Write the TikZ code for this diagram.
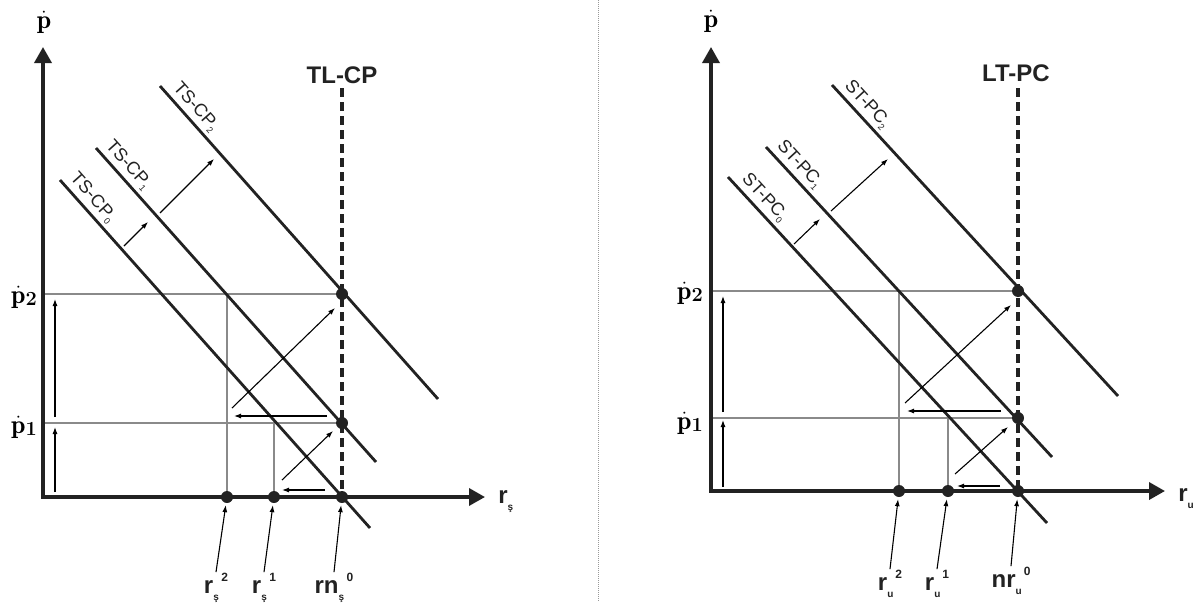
\documentclass[tikz,border=0pt]{standalone}
\usepackage{fontspec}
\usetikzlibrary{arrows.meta}
\newfontfamily\arialf{Liberation Sans}
\definecolor{ink}{HTML}{222222}
\definecolor{guidegray}{HTML}{8A8A8A}
\newcommand{\mylab}[3]{#1\rlap{\raisebox{-0.55ex}{\fontsize{10}{10}\selectfont #2}}\hspace{0.34em}\raisebox{0.95ex}{\fontsize{12}{12}\selectfont #3}}
\newcommand{\cpsub}[1]{\raisebox{-0.35ex}{\fontsize{9}{9}\selectfont #1}}
\newcommand{\pdsub}[1]{$\dot{\mathbf{p}}$\raisebox{-0.25ex}{\fontsize{20}{20}\selectfont\bfseries #1}}
\begin{document}
\begin{tikzpicture}[x=1pt,y=-1pt,
  curve/.style={line width=2.8pt, draw=ink},
  axisln/.style={line width=3.5pt, draw=ink, line join=miter,
     {Triangle[length=16pt,width=17pt]}-{Triangle[length=16pt,width=17pt]}},
  guide/.style={line width=1.2pt, draw=guidegray},
  mv/.style={line width=1.1pt, draw=black, -{Latex[length=7pt,width=5pt]}},
  lrline/.style={line width=4.5pt, draw=ink, dash pattern=on 9pt off 5pt},
  dot/.style={circle, fill=ink, inner sep=0pt, minimum size=12pt},
  plab/.style={font=\fontsize{26}{26}\selectfont, text=black, inner sep=0pt},
  tlab/.style={font=\arialf\bfseries\fontsize{24}{24}\selectfont, text=ink, inner sep=0pt},
  cplab/.style={font=\arialf\fontsize{18}{18}\selectfont, text=ink},
  rlab/.style={font=\arialf\bfseries\fontsize{24}{24}\selectfont, text=ink, inner sep=1pt}]
\useasboundingbox (0,0) rectangle (1198,602);

% divider
\coordinate (divT) at (598,0);
\coordinate (divB) at (598,602);
\draw[line width=1pt, draw=gray!80, dash pattern=on 1pt off 1pt] (divT) -- (divB);

%%%%%%%%%%%%%%%% LEFT PANEL
\coordinate (O1) at (43,497);
\coordinate (Y1) at (43,47);
\coordinate (X1) at (485,497);
% guide lines
\draw[guide] (43,294) -- (342,294);
\draw[guide] (43,423) -- (342,423);
\draw[guide] (227,294) -- (227,497);
\draw[guide] (274,423) -- (274,497);
% long-run line
\coordinate (LR1t) at (342,88);
\coordinate (LR1b) at (342,497);
\draw[lrline] (LR1t) -- (LR1b);
% short-run curves
\coordinate (A0) at (60,180);  \coordinate (B0) at (370,528);
\coordinate (A1) at (96,148);  \coordinate (B1) at (376,462);
\coordinate (A2) at (160,86);  \coordinate (B2) at (438,399);
\draw[curve] (A0) -- (B0) node[pos=0.075, sloped, above, cplab] {TS-CP\cpsub{0}};
\draw[curve] (A1) -- (B1) node[pos=0.081, sloped, above, cplab] {TS-CP\cpsub{1}};
\draw[curve] (A2) -- (B2) node[pos=0.094, sloped, above, cplab] {TS-CP\cpsub{2}};
% axes
\draw[axisln] (Y1) -- (O1) -- (X1);
% dots
\node[dot] (L0) at (342,497) {};
\node[dot] (L1) at (342,423) {};
\node[dot] (L2) at (342,294) {};
\node[dot] (Lr1) at (274,497) {};
\node[dot] (Lr2) at (227,497) {};
% movement arrows
\draw[mv] (124,246) -- (148,222);
\draw[mv] (160,213) -- (214,159);
\draw[mv] (55,492) -- (55,427);
\draw[mv] (55,417) -- (55,299);
\draw[mv] (327,416) -- (234,416);
\draw[mv] (325,490) -- (282,490);
\draw[mv] (232,408) -- (335,308);
\draw[mv] (282,480) -- (333,431);
% labels
\node[plab] (lp) at (44,22) {$\dot{\mathbf{p}}$};
\node[plab] (lp2) at (24,297) {\pdsub{2}};
\node[plab] (lp1) at (24,427) {\pdsub{1}};
\node[tlab] (tlcp) at (342,75) {TL-CP};
\node[rlab] (lrs) at (507,502) {\mylab{r}{ş}{}};
\node[rlab] (lrs2) at (216,588) {\mylab{r}{ş}{2}};
\node[rlab] (lrs1) at (264,588) {\mylab{r}{ş}{1}};
\node[rlab] (lrn0) at (334,588) {\mylab{rn}{ş}{0}};
\draw[mv, shorten >=2pt] (lrs2.north) -- (Lr2);
\draw[mv, shorten >=2pt] (lrs1.north) -- (Lr1);
\draw[mv, shorten >=2pt] (lrn0.north) -- (L0);

%%%%%%%%%%%%%%%% RIGHT PANEL
\coordinate (O2) at (711,491);
\coordinate (Y2) at (711,47);
\coordinate (X2) at (1165,491);
\draw[guide] (711,291) -- (1018,291);
\draw[guide] (711,418) -- (1018,418);
\draw[guide] (899,291) -- (899,491);
\draw[guide] (948,418) -- (948,491);
\coordinate (LR2t) at (1018,88);
\coordinate (LR2b) at (1018,491);
\draw[lrline] (LR2t) -- (LR2b);
\coordinate (C0) at (728,177);  \coordinate (D0) at (1047,523);
\coordinate (C1) at (766,147);  \coordinate (D1) at (1052,457);
\coordinate (C2) at (832,85);   \coordinate (D2) at (1118,396);
\draw[curve] (C0) -- (D0) node[pos=0.085, sloped, above, cplab] {ST-PC\cpsub{0}};
\draw[curve] (C1) -- (D1) node[pos=0.085, sloped, above, cplab] {ST-PC\cpsub{1}};
\draw[curve] (C2) -- (D2) node[pos=0.09, sloped, above, cplab] {ST-PC\cpsub{2}};
\draw[axisln] (Y2) -- (O2) -- (X2);
\node[dot] (R0) at (1018,491) {};
\node[dot] (R1) at (1018,418) {};
\node[dot] (R2) at (1018,291) {};
\node[dot] (Rr1) at (948,491) {};
\node[dot] (Rr2) at (899,491) {};
\draw[mv] (794,244) -- (820,219);
\draw[mv] (831,211) -- (888,159);
\draw[mv] (723,487) -- (723,420);
\draw[mv] (723,412) -- (723,296);
\draw[mv] (1001,411) -- (907,411);
\draw[mv] (1000,486) -- (957,486);
\draw[mv] (905,403) -- (1011,305);
\draw[mv] (955,474) -- (1008,427);
\node[plab] (rp) at (711,21) {$\dot{\mathbf{p}}$};
\node[plab] (rp2) at (690,293) {\pdsub{2}};
\node[plab] (rp1) at (690,423) {\pdsub{1}};
\node[tlab] (ltpc) at (1016,73) {LT-PC};
\node[rlab] (rru) at (1187,499) {\mylab{r}{u}{}};
\node[rlab] (rru2) at (890,584) {\mylab{r}{u}{2}};
\node[rlab] (rru1) at (937,584) {\mylab{r}{u}{1}};
\node[rlab] (rnr0) at (1011,581) {\mylab{nr}{u}{0}};
\draw[mv, shorten >=2pt] (rru2.north) -- (Rr2);
\draw[mv, shorten >=2pt] (rru1.north) -- (Rr1);
\draw[mv, shorten >=2pt] (rnr0.north) -- (R0);
\end{tikzpicture}
\end{document}
